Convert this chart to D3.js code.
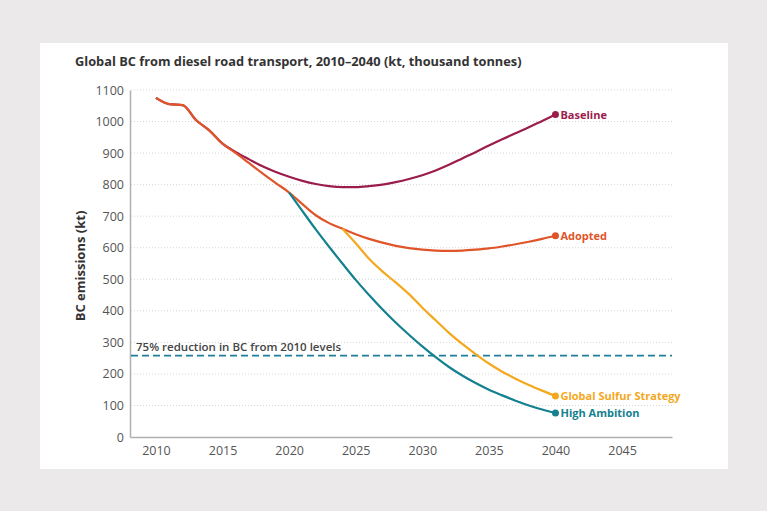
<!DOCTYPE html>
<html><head><meta charset="utf-8">
<script src="https://cdn.jsdelivr.net/npm/d3@7"></script>
<style>
html,body{margin:0;padding:0;background:#ebe9ea;}
svg{display:block;}
text{font-family:"Open Sans",Lato,sans-serif;}
</style></head>
<body>
<script>
const years = d3.range(2010, 2041);
const baseline = [1075,1055,1052,1005,972,930,903,880,858,840,825,812,802,795,792,792,795,800,808,818,830,845,863,883,903,924,944,963,982,1002,1022];
const adopted  = [1075,1055,1052,1005,972,930,900,868,836,805,775,738,703,678,660,643,628,616,606,599,594,591,590,591,594,598,604,611,619,628,638];
const gssYears = d3.range(2024, 2041);
const gss      = [660,614,565,525,490,453,410,370,330,295,263,233,207,185,165,147,130];
const haYears  = d3.range(2020, 2041);
const highAmb  = [775,716,658,603,550,498,450,405,363,324,287,253,222,195,171,150,132,115,100,87,76];
const target = 258;
const targetLabel = "75% reduction in BC from 2010 levels";
const yTicks = d3.range(0, 1101, 100);
const xTicks = [2010,2015,2020,2025,2030,2035,2040,2045];
const title = "Global BC from diesel road transport, 2010–2040 (kt, thousand tonnes)";
const yLabel = "BC emissions (kt)";

const series = [
  {name:"Baseline", x:years, y:baseline, color:"#9c1c4c"},
  {name:"Adopted", x:years, y:adopted, color:"#df5529"},
  {name:"Global Sulfur Strategy", x:gssYears, y:gss, color:"#f3a81d"},
  {name:"High Ambition", x:haYears, y:highAmb, color:"#13818f"}
];

const W = 767, H = 511;
const svg = d3.select("body").append("svg").attr("width", W).attr("height", H);
svg.append("rect").attr("x",0).attr("y",0).attr("width",W).attr("height",H).attr("fill","#ebe9ea");
svg.append("rect").attr("x",40).attr("y",43).attr("width",688).attr("height",426).attr("fill","#ffffff");

const x = d3.scaleLinear().domain([2008.05, 2048.75]).range([130, 672]);
const y = d3.scaleLinear().domain([0, 1100]).range([437, 90]);

// gridlines
svg.append("g").selectAll("line").data(yTicks.filter(d=>d>0)).join("line")
  .attr("x1",131).attr("x2",672).attr("y1",d=>y(d)).attr("y2",d=>y(d))
  .attr("stroke","#d6d6d6").attr("stroke-width",1).attr("stroke-dasharray","1,2");

// axes
const yAxis = svg.append("g").attr("transform","translate(130,0)")
  .call(d3.axisLeft(y).tickValues(yTicks).tickFormat(d3.format("d")).tickSize(0).tickPadding(6));
yAxis.select(".domain").attr("stroke","#b0b0b0").attr("stroke-width",1.5);
yAxis.selectAll("text").attr("fill","#555").style("font-size","12.5px").style("font-family","\"Open Sans\",sans-serif");

const xAxis = svg.append("g").attr("transform","translate(0,437)")
  .call(d3.axisBottom(x).tickValues(xTicks).tickFormat(d3.format("d")).tickSize(0).tickPadding(9));
xAxis.select(".domain").attr("stroke","#b0b0b0").attr("stroke-width",1.5);
xAxis.selectAll("text").attr("fill","#555").style("font-size","12.5px").style("font-family","\"Open Sans\",sans-serif");

// target line
svg.append("line").attr("x1",131).attr("x2",672).attr("y1",y(target)).attr("y2",y(target))
  .attr("stroke","#1f7f99").attr("stroke-width",1.6).attr("stroke-dasharray","7,4");
svg.append("text").attr("x",136).attr("y",y(target)-5).text(targetLabel)
  .attr("fill","#444").style("font-size","11.5px").style("font-weight","600");

// lines
const line = d3.line().x(d=>x(d[0])).y(d=>y(d[1])).curve(d3.curveMonotoneX);
series.forEach(s=>{
  const pts = s.x.map((v,i)=>[v, s.y[i]]);
  svg.append("path").datum(pts).attr("d",line).attr("fill","none")
    .attr("stroke",s.color).attr("stroke-width",2.2);
  const last = pts[pts.length-1];
  svg.append("circle").attr("cx",x(last[0])).attr("cy",y(last[1])).attr("r",3.5).attr("fill",s.color);
  svg.append("text").attr("x",x(last[0])+5).attr("y",y(last[1])+4).text(s.name)
    .attr("fill",s.color).style("font-size","11px").style("font-weight","700");
});

// title
svg.append("text").attr("x",75).attr("y",66).text(title)
  .attr("fill","#333").style("font-size","12.8px").style("font-weight","700");

// y label
svg.append("text").attr("transform","translate(85,266) rotate(-90)").attr("text-anchor","middle")
  .text(yLabel).attr("fill","#333").style("font-size","13px").style("font-weight","700");
</script>
</body></html>
